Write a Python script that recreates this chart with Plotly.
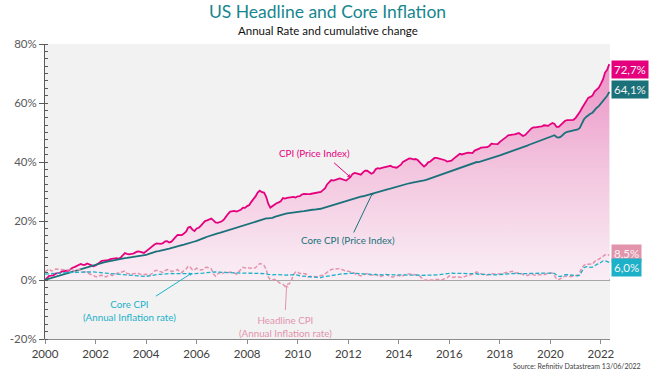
import pandas as pd
import plotly.graph_objects as go

# ---------------- DATA ----------------
# US CPI-U (all items), monthly index, 1999 (for annual rates) and Jan 2000 - May 2022
CPI_1999 = [164.3, 164.5, 165.0, 166.2, 166.2, 166.2, 166.7, 167.1, 167.9, 168.2, 168.3, 168.3]
CPI = [
    168.8, 169.8, 171.2, 171.3, 171.5, 172.4, 172.8, 172.8, 173.7, 174.0, 174.1, 174.0,
    175.1, 175.8, 176.2, 176.9, 177.7, 178.0, 177.5, 177.5, 178.3, 177.7, 177.4, 176.7,
    177.1, 177.8, 178.8, 179.8, 179.8, 179.9, 180.1, 180.7, 181.0, 181.3, 181.3, 180.9,
    181.7, 183.1, 184.2, 183.8, 183.5, 183.7, 183.9, 184.6, 185.2, 185.0, 184.5, 184.3,
    185.2, 186.2, 187.4, 188.0, 189.1, 189.7, 189.4, 189.5, 189.9, 190.9, 191.0, 190.3,
    190.7, 191.8, 193.3, 194.6, 194.4, 194.5, 195.4, 196.4, 198.8, 199.2, 197.6, 196.8,
    198.3, 198.7, 199.8, 201.5, 202.5, 202.9, 203.5, 203.9, 202.9, 201.8, 201.5, 201.8,
    202.416, 203.499, 205.352, 206.686, 207.949, 208.352, 208.299, 207.917, 208.490, 208.936, 210.177, 210.036,
    211.080, 211.693, 213.528, 214.823, 216.632, 218.815, 219.964, 219.086, 218.783, 216.573, 212.425, 210.228,
    211.143, 212.193, 212.709, 213.240, 213.856, 215.693, 215.351, 215.834, 215.969, 216.177, 216.330, 215.949,
    216.687, 216.741, 217.631, 218.009, 218.178, 217.965, 218.011, 218.312, 218.439, 218.711, 218.803, 219.179,
    220.223, 221.309, 223.467, 224.906, 225.964, 225.722, 225.922, 226.545, 226.889, 226.421, 226.230, 225.672,
    226.665, 227.663, 229.392, 230.085, 229.815, 229.478, 229.104, 230.379, 231.407, 231.317, 230.221, 229.601,
    230.280, 232.166, 232.773, 232.531, 232.945, 233.504, 233.596, 233.877, 234.149, 233.546, 233.069, 233.049,
    233.916, 234.781, 236.293, 237.072, 237.900, 238.343, 238.250, 237.852, 238.031, 237.433, 236.151, 234.812,
    233.707, 234.722, 236.119, 236.599, 237.805, 238.638, 238.654, 238.316, 237.945, 237.838, 237.336, 236.525,
    236.916, 237.111, 238.132, 239.261, 240.229, 241.018, 240.628, 240.849, 241.428, 241.729, 241.353, 241.432,
    242.839, 243.603, 243.801, 244.524, 244.733, 244.955, 244.786, 245.519, 246.819, 246.663, 246.669, 246.524,
    247.867, 248.991, 249.554, 250.546, 251.588, 251.989, 252.006, 252.146, 252.439, 252.885, 252.038, 251.233,
    251.712, 252.776, 254.202, 255.548, 256.092, 256.143, 256.571, 256.558, 256.759, 257.346, 257.208, 256.974,
    257.971, 258.678, 258.115, 256.389, 256.394, 257.797, 259.101, 259.918, 260.280, 260.388, 260.229, 260.474,
    261.582, 263.014, 264.877, 267.054, 269.195, 271.696, 273.003, 273.567, 274.310, 276.589, 277.948, 278.802,
    281.148, 283.716, 287.504, 289.109, 292.296,
]

# US core CPI (less food & energy), monthly index
CORE_1999 = [175.8, 176.1, 176.3, 176.8, 176.9, 177.1, 177.3, 177.6, 177.8, 178.1, 178.4, 178.8]
CORE = [
    179.3, 179.7, 180.2, 180.4, 180.8, 181.2, 181.5, 181.8, 182.2, 182.6, 183.0, 183.5,
    183.9, 184.4, 184.8, 185.2, 185.6, 186.0, 186.4, 186.8, 187.1, 187.6, 188.0, 188.5,
    188.8, 189.1, 189.4, 189.8, 190.0, 190.3, 190.6, 190.9, 191.2, 191.5, 191.8, 192.0,
    192.2, 192.4, 192.6, 192.7, 192.9, 193.0, 193.2, 193.4, 193.6, 193.8, 194.0, 194.1,
    194.5, 195.0, 195.5, 195.8, 196.3, 196.7, 196.9, 197.1, 197.5, 197.8, 198.1, 198.4,
    198.8, 199.2, 199.7, 200.0, 200.2, 200.5, 200.8, 201.1, 201.4, 201.9, 202.3, 202.7,
    203.1, 203.5, 204.0, 204.6, 205.1, 205.6, 206.1, 206.5, 206.9, 207.4, 207.7, 208.0,
    208.4, 208.8, 209.3, 209.7, 210.1, 210.5, 210.9, 211.3, 211.8, 212.2, 212.6, 213.0,
    213.4, 213.8, 214.1, 214.5, 214.9, 215.4, 215.9, 216.3, 216.6, 216.7, 216.7, 216.8,
    217.1, 217.7, 218.1, 218.6, 218.9, 219.2, 219.5, 219.8, 220.0, 220.4, 220.6, 220.8,
    220.7, 220.8, 221.0, 221.1, 221.4, 221.7, 221.9, 222.0, 222.1, 222.2, 222.4, 222.6,
    223.0, 223.4, 223.7, 224.1, 224.6, 225.1, 225.6, 226.0, 226.4, 226.8, 227.1, 227.5,
    228.0, 228.5, 228.8, 229.2, 229.6, 229.8, 230.0, 230.2, 230.6, 231.1, 231.4, 231.8,
    232.1, 232.6, 232.9, 233.1, 233.4, 233.8, 234.2, 234.6, 234.8, 235.2, 235.5, 235.8,
    236.1, 236.4, 236.8, 237.2, 237.6, 238.1, 238.3, 238.5, 238.7, 239.0, 239.3, 239.5,
    239.8, 240.2, 240.6, 241.1, 241.5, 241.9, 242.4, 242.8, 243.3, 243.8, 244.2, 244.6,
    245.2, 245.8, 246.1, 246.6, 247.0, 247.5, 247.9, 248.4, 248.8, 249.3, 249.6, 249.9,
    250.5, 251.0, 250.9, 251.3, 251.6, 251.9, 252.3, 252.7, 253.0, 253.6, 254.0, 254.4,
    255.0, 255.5, 256.0, 256.4, 256.9, 257.4, 257.8, 258.2, 258.6, 259.0, 259.5, 260.0,
    260.5, 261.0, 261.5, 262.0, 262.6, 263.1, 263.6, 264.1, 264.5, 265.0, 265.5, 265.9,
    266.5, 267.1, 267.3, 266.1, 265.9, 266.4, 267.9, 268.8, 269.3, 269.6, 269.8, 270.2,
    270.4, 270.8, 271.7, 274.3, 277.0, 278.4, 279.5, 280.3, 281.0, 282.6, 284.0, 285.0,
    286.7, 288.4, 289.4, 291.3, 293.6,
]

START_MONTH = "2000-01-01"
X_TICK_YEARS = [str(y) for y in range(2000, 2023, 2)]
Y_TICKS = [-20, 0, 20, 40, 60, 80]
END_LABELS = ["72,7%", "64,1%", "8,5%", "6,0%"]

TITLE = "US Headline and Core Inflation"
SUBTITLE = "Annual Rate and cumulative change"
SOURCE = "Source: Refinitiv Datastream 13/06/2022"

# ---------------- DERIVED SERIES ----------------
dates = pd.date_range(START_MONTH, periods=len(CPI), freq="MS")
cpi_cum = [(v / CPI[0] - 1) * 100 for v in CPI]
core_cum = [(v / CORE[0] - 1) * 100 for v in CORE]
cpi_all = CPI_1999 + CPI
core_all = CORE_1999 + CORE
cpi_yoy = [(cpi_all[i + 12] / cpi_all[i] - 1) * 100 for i in range(len(CPI))]
core_yoy = [(core_all[i + 12] / core_all[i] - 1) * 100 for i in range(len(CORE))]

# ---------------- STYLE ----------------
C_CPI = "#e5007e"
C_CORE = "#1a717a"
C_HEAD_YOY = "#e394ad"
C_CORE_YOY = "#1cb1c9"
FONT = "Lato"

fig = go.Figure()

fig.add_trace(go.Scatter(
    x=dates, y=cpi_cum, mode="lines", fill="tozeroy",
    line=dict(color=C_CPI, width=1.8),
    fillgradient=dict(type="vertical", start=0, stop=74,
                      colorscale=[[0, "rgb(250,238,245)"], [0.5, "rgb(243,198,223)"], [1, "rgb(235,145,197)"]]),
    showlegend=False, hoverinfo="skip",
))
fig.add_trace(go.Scatter(
    x=dates, y=core_cum, mode="lines",
    line=dict(color=C_CORE, width=1.8), showlegend=False,
))
fig.add_trace(go.Scatter(
    x=dates, y=cpi_yoy, mode="lines",
    line=dict(color=C_HEAD_YOY, width=1.5, dash="4px,2px"), showlegend=False,
))
fig.add_trace(go.Scatter(
    x=dates, y=core_yoy, mode="lines",
    line=dict(color=C_CORE_YOY, width=1.3, dash="4px,2px"), showlegend=False,
))

ann = []
# Inline labels
ann.append(dict(x="2010-09-05", y=43.2, text="CPI (Price Index)", showarrow=False,
                font=dict(color=C_CPI, size=9.8, family=FONT)))
ann.append(dict(x="2012-01-25", y=35.0, ax="2011-05-20", ay=40.2, axref="x", ayref="y",
                text="", showarrow=True, arrowhead=1, arrowsize=0.7, arrowwidth=1, arrowcolor=C_CPI))
ann.append(dict(x="2011-12-30", y=13.6, text="Core CPI (Price Index)", showarrow=False,
                font=dict(color=C_CORE, size=9.8, family=FONT)))
ann.append(dict(x="2012-12-20", y=29.6, ax="2012-03-10", ay=15.6, axref="x", ayref="y",
                text="", showarrow=True, arrowhead=1, arrowsize=0.7, arrowwidth=1, arrowcolor=C_CORE))
ann.append(dict(x="2003-05-10", y=-10.4, text="Core CPI<br>(Annual Inflation rate)", showarrow=False,
                font=dict(color=C_CORE_YOY, size=9.8, family=FONT)))
ann.append(dict(x="2005-10-20", y=2.3, ax="2004-05-01", ay=-5.8, axref="x", ayref="y",
                text="", showarrow=True, arrowhead=1, arrowsize=0.7, arrowwidth=1, arrowcolor=C_CORE_YOY))
ann.append(dict(x="2009-07-15", y=-15.9, text="Headline CPI<br>(Annual Inflation rate)", showarrow=False,
                font=dict(color=C_HEAD_YOY, size=9.8, family=FONT)))
ann.append(dict(x="2009-07-25", y=-1.8, ax="2009-07-05", ay=-10.7, axref="x", ayref="y",
                text="", showarrow=True, arrowhead=1, arrowsize=0.7, arrowwidth=1, arrowcolor=C_HEAD_YOY))

# End value boxes
end_vals = [cpi_cum[-1], core_cum[-1], cpi_yoy[-1], core_yoy[-1]]
end_cols = [C_CPI, C_CORE, C_HEAD_YOY, C_CORE_YOY]
end_shift = [-5, 2, 1, -5]
for txt, val, col, sh in zip(END_LABELS, end_vals, end_cols, end_shift):
    ann.append(dict(xref="paper", x=1.0, xanchor="left", xshift=1, y=val, yshift=sh,
                    text=txt, showarrow=False, bgcolor=col, borderpad=2,
                    font=dict(color="#f4f4f4", size=11.5, family=FONT)))

# Subtitle and source
ann.append(dict(xref="paper", yref="paper", x=0.5, y=1.047, yanchor="middle",
                text=SUBTITLE, showarrow=False, font=dict(color="#111111", size=11.5, family=FONT)))
ann.append(dict(xref="paper", yref="paper", x=1.058, y=-0.092, xanchor="right", yanchor="middle",
                text=SOURCE, showarrow=False, font=dict(color="#404040", size=7, family=FONT)))

fig.update_layout(
    width=655, height=371,
    margin=dict(l=45, r=45, t=44, b=32, autoexpand=False),
    paper_bgcolor="white", plot_bgcolor="#f2f2f2",
    title=dict(text=TITLE, x=0.5, xanchor="center", y=1 - 12 / 371, yanchor="middle",
               font=dict(color="#17868f", size=17.5, family=FONT)),
    font=dict(family=FONT),
    annotations=ann,
    showlegend=False,
)
fig.update_xaxes(
    type="date", range=["2000-01-01", "2022-05-12"],
    tickvals=[f"{y}-01-01" for y in X_TICK_YEARS], ticktext=X_TICK_YEARS,
    showline=True, linecolor="#8c8c8c", linewidth=1,
    ticks="outside", ticklen=4, tickcolor="#8c8c8c",
    showgrid=False, zeroline=False,
    tickfont=dict(color="#404040", size=11.5, family=FONT),
)
fig.update_yaxes(
    range=[-20, 80], tickvals=Y_TICKS, ticktext=[f"{v}%" for v in Y_TICKS],
    showline=True, linecolor="#595959", linewidth=1,
    ticks="outside", ticklen=5, tickcolor="#595959",
    minor=dict(dtick=2.5, ticks="inside", ticklen=3, tickcolor="#595959", showgrid=False),
    showgrid=False, zeroline=True, zerolinecolor="#a6a6a6", zerolinewidth=2,
    tickfont=dict(color="#595959", size=11.5, family=FONT),
)

fig.write_html("out.html", config={"displayModeBar": False},
               post_script="document.body.style.margin='0';document.body.style.overflow='hidden';")
